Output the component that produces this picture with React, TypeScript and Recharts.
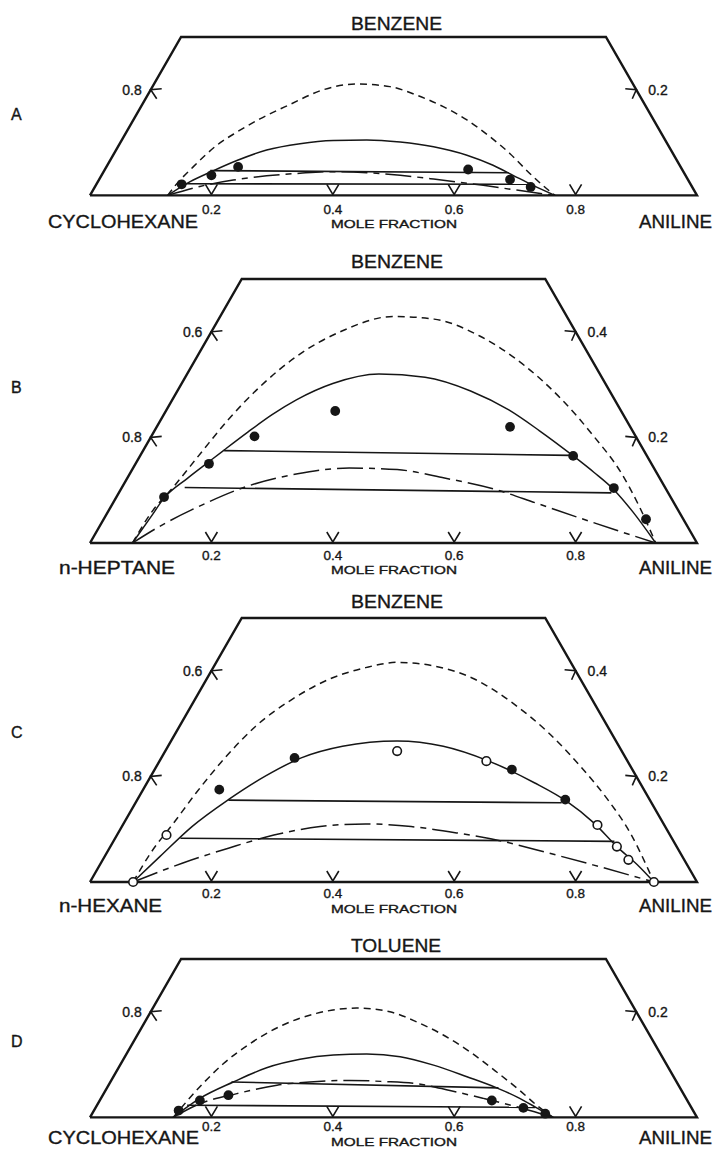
import React from 'react';
import { ScatterChart, Scatter, XAxis, YAxis } from 'recharts';

// ---------- data: [position along base (mole fraction scale), benzene/toluene mole fraction] ----------
const BASE_TICKS = [0.2, 0.4, 0.6, 0.8];

const OUTLINE_03: number[][] = [[0, 0], [0.15, 0.3], [0.85, 0.3], [1, 0], [0, 0]];
const OUTLINE_05: number[][] = [[0, 0], [0.25, 0.5], [0.75, 0.5], [1, 0], [0, 0]];

// Panel A  (cyclohexane - benzene - aniline)
const A_SHORT_DASH = [[0.128, 0], [0.140, 0.018], [0.170, 0.054], [0.209, 0.095], [0.242, 0.120], [0.280, 0.145], [0.329, 0.172], [0.384, 0.200], [0.439, 0.211], [0.494, 0.206], [0.538, 0.190], [0.582, 0.168], [0.621, 0.143], [0.659, 0.111], [0.692, 0.079], [0.725, 0.041], [0.745, 0.020], [0.766, 0]];
const A_SOLID = [[0.128, 0], [0.165, 0.026], [0.200, 0.045], [0.242, 0.066], [0.291, 0.086], [0.346, 0.098], [0.401, 0.104], [0.456, 0.105], [0.511, 0.101], [0.566, 0.092], [0.621, 0.076], [0.664, 0.057], [0.697, 0.038], [0.730, 0.019], [0.766, 0]];
const A_LONG_DASH = [[0.128, 0], [0.181, 0.017], [0.236, 0.029], [0.291, 0.037], [0.346, 0.042], [0.401, 0.045], [0.456, 0.043], [0.511, 0.038], [0.566, 0.031], [0.648, 0.019], [0.703, 0.010], [0.766, 0]];
const A_TIE_1 = [[0.198, 0.047], [0.690, 0.043]];
const A_TIE_2 = [[0.154, 0.022], [0.725, 0.021]];
const A_FILLED = [[0.151, 0.021], [0.200, 0.038], [0.244, 0.054], [0.623, 0.049], [0.692, 0.030], [0.726, 0.016]];
const A_OPEN: number[][] = [];

// Panel B  (n-heptane - benzene - aniline)
const B_SHORT_DASH = [[0.070, 0], [0.100, 0.056], [0.138, 0.107], [0.183, 0.171], [0.228, 0.234], [0.281, 0.297], [0.341, 0.354], [0.416, 0.402], [0.499, 0.429], [0.567, 0.424], [0.642, 0.392], [0.717, 0.335], [0.777, 0.272], [0.830, 0.202], [0.875, 0.133], [0.905, 0.069], [0.932, 0]];
const B_SOLID = [[0.070, 0], [0.100, 0.049], [0.122, 0.085], [0.160, 0.122], [0.196, 0.154], [0.222, 0.177], [0.260, 0.210], [0.300, 0.243], [0.340, 0.271], [0.400, 0.302], [0.476, 0.320], [0.552, 0.314], [0.627, 0.288], [0.690, 0.252], [0.740, 0.213], [0.796, 0.165], [0.830, 0.134], [0.863, 0.101], [0.895, 0.058], [0.932, 0]];
const B_LONG_DASH = [[0.070, 0], [0.114, 0.031], [0.179, 0.069], [0.258, 0.107], [0.342, 0.131], [0.427, 0.142], [0.506, 0.139], [0.584, 0.123], [0.669, 0.101], [0.734, 0.076], [0.800, 0.050], [0.865, 0.025], [0.932, 0]];
const B_TIE_1 = [[0.221, 0.175], [0.791, 0.166]];
const B_TIE_2 = [[0.156, 0.105], [0.859, 0.095]];
const B_FILLED = [[0.122, 0.087], [0.196, 0.150], [0.271, 0.202], [0.404, 0.250], [0.692, 0.220], [0.796, 0.165], [0.863, 0.104], [0.916, 0.045]];
const B_OPEN: number[][] = [];

// Panel C  (n-hexane - benzene - aniline)
const C_SHORT_DASH = [[0.071, 0], [0.100, 0.055], [0.138, 0.112], [0.175, 0.169], [0.220, 0.232], [0.273, 0.295], [0.333, 0.346], [0.394, 0.384], [0.454, 0.406], [0.506, 0.416], [0.567, 0.409], [0.634, 0.384], [0.695, 0.340], [0.755, 0.283], [0.808, 0.219], [0.853, 0.156], [0.890, 0.093], [0.920, 0.023], [0.929, 0]];
const C_SOLID = [[0.071, 0], [0.115, 0.048], [0.168, 0.105], [0.228, 0.156], [0.288, 0.200], [0.348, 0.235], [0.416, 0.257], [0.506, 0.267], [0.582, 0.257], [0.657, 0.229], [0.732, 0.188], [0.785, 0.153], [0.830, 0.112], [0.868, 0.067], [0.905, 0.029], [0.929, 0]];
const C_LONG_DASH = [[0.071, 0], [0.153, 0.036], [0.228, 0.064], [0.303, 0.089], [0.379, 0.105], [0.454, 0.110], [0.529, 0.105], [0.604, 0.093], [0.680, 0.077], [0.755, 0.055], [0.830, 0.032], [0.929, 0]];
const C_TIE_1 = [[0.228, 0.155], [0.777, 0.150]];
const C_TIE_2 = [[0.149, 0.083], [0.864, 0.077]];
const C_FILLED = [[0.213, 0.175], [0.337, 0.235], [0.695, 0.213], [0.783, 0.156]];
const C_OPEN = [[0.071, 0], [0.126, 0.089], [0.506, 0.248], [0.653, 0.229], [0.836, 0.108], [0.868, 0.067], [0.887, 0.042], [0.929, 0]];

// Panel D  (cyclohexane - toluene - aniline)
const D_SHORT_DASH = [[0.137, 0], [0.181, 0.058], [0.220, 0.102], [0.264, 0.140], [0.318, 0.175], [0.373, 0.197], [0.439, 0.207], [0.494, 0.200], [0.538, 0.181], [0.582, 0.156], [0.626, 0.124], [0.670, 0.086], [0.708, 0.051], [0.736, 0.023], [0.763, 0]];
const D_SOLID = [[0.137, 0], [0.181, 0.036], [0.236, 0.067], [0.291, 0.094], [0.346, 0.110], [0.401, 0.118], [0.456, 0.120], [0.511, 0.115], [0.566, 0.099], [0.621, 0.077], [0.670, 0.056], [0.703, 0.039], [0.736, 0.018], [0.763, 0]];
const D_LONG_DASH = [[0.137, 0], [0.181, 0.026], [0.242, 0.045], [0.308, 0.061], [0.362, 0.067], [0.428, 0.070], [0.483, 0.068], [0.538, 0.064], [0.593, 0.051], [0.648, 0.036], [0.703, 0.020], [0.763, 0]];
const D_TIE_1 = [[0.233, 0.067], [0.673, 0.056]];
const D_TIE_2 = [[0.160, 0.023], [0.733, 0.019]];
const D_FILLED = [[0.146, 0.013], [0.181, 0.032], [0.228, 0.042], [0.662, 0.032], [0.714, 0.018], [0.750, 0.007]];
const D_OPEN: number[][] = [];

// edge ticks: [x, b, label]
const EDGE_LEFT_03: [number, number, string][] = [[0.1, 0.2, '0.8']];
const EDGE_RIGHT_03: [number, number, string][] = [[0.9, 0.2, '0.2']];
const EDGE_LEFT_05: [number, number, string][] = [[0.2, 0.4, '0.6'], [0.1, 0.2, '0.8']];
const EDGE_RIGHT_05: [number, number, string][] = [[0.8, 0.4, '0.4'], [0.9, 0.2, '0.2']];

// text labels
const PANEL_LETTERS = ['A', 'B', 'C', 'D'];
const TITLES = ['BENZENE', 'BENZENE', 'BENZENE', 'TOLUENE'];
const LEFT_NAMES = ['CYCLOHEXANE', 'n-HEPTANE', 'n-HEXANE', 'CYCLOHEXANE'];
const RIGHT_NAME = 'ANILINE';
const AXIS_TITLE = 'MOLE FRACTION';

// ---------- layout ----------
const W = 715;
const VS = 528; // px per unit of benzene fraction
const PL = 90;
const PR = 18;
const PAD_T = 10;
const AX_H = 40;
const INK = '#161616';
const FONT = "'Liberation Sans', Arial, sans-serif";

const PANELS = [
  { base: 195, bmax: 0.3, tickOff: 19, outline: OUTLINE_03, sd: A_SHORT_DASH, so: A_SOLID, ld: A_LONG_DASH, ties: [A_TIE_1, A_TIE_2], filled: A_FILLED, open: A_OPEN, el: EDGE_LEFT_03, er: EDGE_RIGHT_03 },
  { base: 543, bmax: 0.5, tickOff: 17, outline: OUTLINE_05, sd: B_SHORT_DASH, so: B_SOLID, ld: B_LONG_DASH, ties: [B_TIE_1, B_TIE_2], filled: B_FILLED, open: B_OPEN, el: EDGE_LEFT_05, er: EDGE_RIGHT_05 },
  { base: 882, bmax: 0.5, tickOff: 16, outline: OUTLINE_05, sd: C_SHORT_DASH, so: C_SOLID, ld: C_LONG_DASH, ties: [C_TIE_1, C_TIE_2], filled: C_FILLED, open: C_OPEN, el: EDGE_LEFT_05, er: EDGE_RIGHT_05 },
  { base: 1117, bmax: 0.3, tickOff: 14, outline: OUTLINE_03, sd: D_SHORT_DASH, so: D_SOLID, ld: D_LONG_DASH, ties: [D_TIE_1, D_TIE_2], filled: D_FILLED, open: D_OPEN, el: EDGE_LEFT_03, er: EDGE_RIGHT_03 },
];

// label placement (page coordinates)
const LETTER_Y = [120, 393, 738, 1047];
const TITLE_Y = [30, 268, 608, 952];
const NAME_Y = [228, 574, 912, 1144];
const AXIS_TITLE_Y = [228, 574, 913, 1146];
const TITLE_W = [91, 92, 92, 90];
const LEFT_W = [150, 116, 103, 151];

const toPts = (arr: number[][]) => arr.map(([x, b]) => ({ x, b }));

const Empty = () => <g />;
const FilledDot = (p: any) => <circle cx={p.cx} cy={p.cy} r={4.9} fill={INK} />;
const OpenDot = (p: any) => <circle cx={p.cx} cy={p.cy} r={4.3} fill="#fff" stroke={INK} strokeWidth={1.6} />;

const TXT_STROKE = { stroke: INK, strokeWidth: 0.35 };

const makeLeftTick = (label: string) => (p: any) => (
  <g>
    <path d={`M${p.cx + 11},${p.cy - 1} L${p.cx},${p.cy} L${p.cx + 6},${p.cy + 9}`} fill="none" stroke={INK} strokeWidth={1.6} />
    <text x={p.cx - 9} y={p.cy + 5} textAnchor="end" fontSize={14} fontFamily={FONT} fill={INK} {...TXT_STROKE}>{label}</text>
  </g>
);
const makeRightTick = (label: string) => (p: any) => (
  <g>
    <path d={`M${p.cx - 11},${p.cy - 1} L${p.cx},${p.cy} L${p.cx - 4},${p.cy + 9}`} fill="none" stroke={INK} strokeWidth={1.6} />
    <text x={p.cx + 12} y={p.cy + 5} textAnchor="start" fontSize={14} fontFamily={FONT} fill={INK} {...TXT_STROKE}>{label}</text>
  </g>
);

const makeBaseTick = (off: number) => (p: any) => {
  const { x, y, payload } = p;
  return (
    <g>
      <path d={`M${x - 6},${y - 11} L${x},${y - 1} L${x + 6},${y - 11}`} fill="none" stroke={INK} strokeWidth={1.6} />
      <text x={x} y={y + off} textAnchor="middle" fontSize={13.5} fontFamily={FONT} fill={INK} {...TXT_STROKE}>{String(payload.value)}</text>
    </g>
  );
};

function Panel({ cfg }: { cfg: any }) {
  const hp = cfg.bmax * VS;
  const top = cfg.base - hp - PAD_T;
  const h = PAD_T + hp + AX_H;
  const lineStyle = (dash?: string, w = 1.5) => ({ stroke: INK, strokeWidth: w, strokeDasharray: dash });
  return (
    <div style={{ position: 'absolute', left: 0, top, width: W, height: h }}>
      <ScatterChart width={W} height={h} margin={{ top: PAD_T, right: PR, bottom: 0, left: PL }}>
        <XAxis type="number" dataKey="x" domain={[0, 1]} ticks={BASE_TICKS} interval={0} axisLine={false} tickLine={false} tickSize={0} tickMargin={0} height={AX_H} tick={makeBaseTick(cfg.tickOff)} />
        <YAxis type="number" dataKey="b" domain={[0, cfg.bmax]} hide />
        <Scatter data={toPts(cfg.outline)} line={{ stroke: INK, strokeWidth: 2.4 }} lineJointType="linear" shape={Empty} isAnimationActive={false} />
        <Scatter data={toPts(cfg.sd)} line={lineStyle('7 5', 1.5)} lineJointType="monotoneX" shape={Empty} isAnimationActive={false} />
        <Scatter data={toPts(cfg.so)} line={lineStyle(undefined, 1.5)} lineJointType="monotoneX" shape={Empty} isAnimationActive={false} />
        <Scatter data={toPts(cfg.ld)} line={lineStyle('26 6 6 6', 1.5)} lineJointType="monotoneX" shape={Empty} isAnimationActive={false} />
        {cfg.ties.map((t: number[][], i: number) => (
          <Scatter key={'t' + i} data={toPts(t)} line={lineStyle(undefined, 1.6)} lineJointType="linear" shape={Empty} isAnimationActive={false} />
        ))}
        <Scatter data={toPts(cfg.filled)} shape={FilledDot} isAnimationActive={false} />
        {cfg.open.length > 0 && <Scatter data={toPts(cfg.open)} shape={OpenDot} isAnimationActive={false} />}
        {cfg.el.map((e: [number, number, string], i: number) => (
          <Scatter key={'l' + i} data={[{ x: e[0], b: e[1] }]} shape={makeLeftTick(e[2])} isAnimationActive={false} />
        ))}
        {cfg.er.map((e: [number, number, string], i: number) => (
          <Scatter key={'r' + i} data={[{ x: e[0], b: e[1] }]} shape={makeRightTick(e[2])} isAnimationActive={false} />
        ))}
      </ScatterChart>
    </div>
  );
}

export default function App() {
  return (
    <div style={{ position: 'absolute', left: 0, top: 0, width: W, height: 1150, background: '#fff', overflow: 'hidden' }}>
      {PANELS.map((cfg, i) => <Panel key={i} cfg={cfg} />)}
      <svg width={W} height={1150} style={{ position: 'absolute', left: 0, top: 0, pointerEvents: 'none' }}>
        {PANELS.map((cfg, i) => (
          <g key={i} fontFamily={FONT} fill={INK} stroke={INK} strokeWidth={0.35}>
            <text x={11} y={LETTER_Y[i]} fontSize={16}>{PANEL_LETTERS[i]}</text>
            <text x={351} y={TITLE_Y[i]} fontSize={18} textLength={TITLE_W[i]} lengthAdjust="spacingAndGlyphs">{TITLES[i]}</text>
            <text x={i === 1 || i === 2 ? 59 : 48} y={NAME_Y[i]} fontSize={18} textLength={LEFT_W[i]} lengthAdjust="spacingAndGlyphs">{LEFT_NAMES[i]}</text>
            <text x={639} y={NAME_Y[i]} fontSize={18} textLength={73} lengthAdjust="spacingAndGlyphs">{RIGHT_NAME}</text>
            <text x={331} y={AXIS_TITLE_Y[i]} fontSize={11.5} textLength={126} lengthAdjust="spacingAndGlyphs">{AXIS_TITLE}</text>
          </g>
        ))}
      </svg>
    </div>
  );
}
